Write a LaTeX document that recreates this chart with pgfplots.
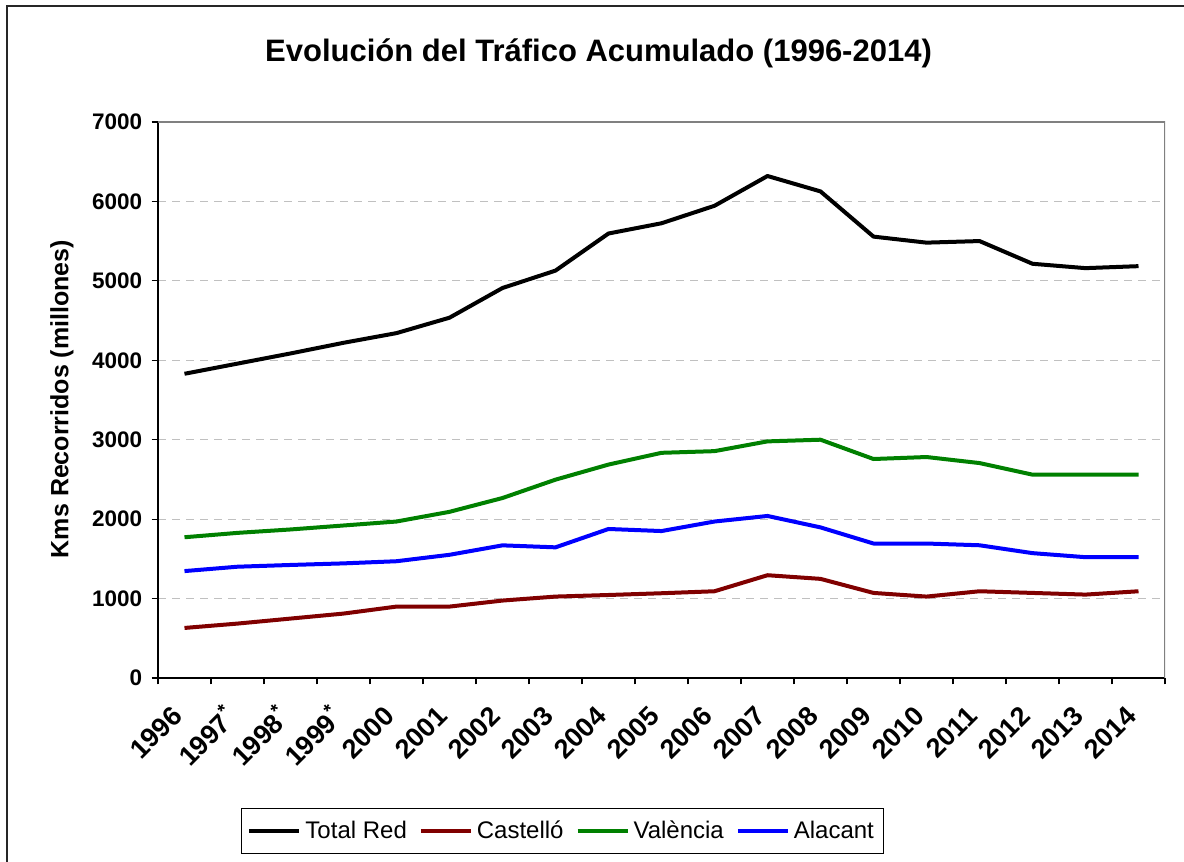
\documentclass[border=0pt]{standalone}
\usepackage{fontspec}
\setmainfont{Liberation Sans}
\usepackage{pgfplots}
\pgfplotsset{compat=1.18}
\definecolor{cred}{HTML}{800000}
\definecolor{cgreen}{HTML}{008000}
\definecolor{cblue}{HTML}{0000FF}
\definecolor{gridc}{HTML}{C0C0C0}
\definecolor{frame}{HTML}{808080}
\begin{document}
\begin{tikzpicture}
\path[use as bounding box] (0,0) rectangle (592pt,431pt);
\draw[line width=1pt, black!85] (3.25pt,0) -- (3.25pt,427.75pt) -- (592pt,427.75pt);
\node[font=\fontsize{15.5}{18}\selectfont\bfseries] at (299.25pt,404.5pt) {Evolución del Tráfico Acumulado (1996-2014)};
\node[font=\fontsize{12.5}{15}\selectfont\bfseries, rotate=90] at (31pt,231.5pt) {Kms Recorridos (millones)};
\begin{axis}[
  at={(79pt,92pt)}, anchor=south west,
  width=503.5pt, height=278pt, scale only axis,
  xmin=-0.5, xmax=18.5, ymin=0, ymax=7000,
  axis lines=left,
  axis line style={-, line width=0.8pt, black},
  tick align=outside,
  major tick length=3.25pt,
  tick style={black, line width=0.6pt},
  ytick={0,1000,...,7000},
  ymajorgrids,
  grid style={gridc, line width=0.5pt, dash pattern=on 4pt off 3pt},
  xtick={-0.5,0.5,...,18.5},
  xticklabels={},
  extra x ticks={0,...,18},
  extra x tick labels={1996,1997\textsuperscript{*},1998\textsuperscript{*},1999\textsuperscript{*},2000,2001,2002,2003,2004,2005,2006,2007,2008,2009,2010,2011,2012,2013,2014},
  extra x tick style={major tick length=0pt, grid=none,
    xticklabel style={inner sep=0pt, xshift=-3.5pt, yshift=-16.5pt, rotate=45, anchor=east,
      font=\fontsize{13.5}{15}\selectfont\bfseries}},
  yticklabel style={inner sep=0pt, xshift=-4.5pt},
  ticklabel style={font=\fontsize{11.25}{13}\selectfont\bfseries},
  /pgf/number format/assume math mode=true,
  /pgf/number format/1000 sep={},
  legend columns=4,
  legend style={at={(axis description cs:0.0824,-0.2338)}, anchor=north west,
    draw=black, line width=0.5pt, font=\fontsize{12}{14}\selectfont,
    inner xsep=3pt, inner ysep=4pt,
    /tikz/every even column/.append style={column sep=4pt}},
  legend image code/.code={\draw[#1, line width=2pt] (0pt,0pt) -- (25pt,0pt);},
  every axis plot/.append style={line width=2pt, line join=round, mark=none},
]
\draw[frame, line width=0.8pt] (rel axis cs:0,1) -- (rel axis cs:1,1) -- (rel axis cs:1,0);
\addplot[black] coordinates {(0,3830)(1,3958)(2,4086)(3,4220)(4,4342)(5,4536)(6,4910)(7,5129)(8,5596)(9,5725)(10,5945)(11,6320)(12,6126)(13,5557)(14,5481)(15,5501)(16,5215)(17,5160)(18,5185)};
\addlegendentry{Total Red}
\addplot[cred] coordinates {(0,630)(1,685)(2,748)(3,811)(4,899)(5,899)(6,975)(7,1025)(8,1045)(9,1067)(10,1092)(11,1294)(12,1248)(13,1071)(14,1025)(15,1092)(16,1071)(17,1050)(18,1092)};
\addlegendentry{Castelló}
\addplot[cgreen] coordinates {(0,1772)(1,1827)(2,1870)(3,1920)(4,1970)(5,2092)(6,2266)(7,2497)(8,2687)(9,2835)(10,2856)(11,2979)(12,3000)(13,2757)(14,2782)(15,2706)(16,2560)(17,2560)(18,2560)};
\addlegendentry{València}
\addplot[cblue] coordinates {(0,1346)(1,1401)(2,1423)(3,1443)(4,1470)(5,1551)(6,1670)(7,1645)(8,1876)(9,1850)(10,1970)(11,2040)(12,1896)(13,1693)(14,1693)(15,1671)(16,1572)(17,1521)(18,1521)};
\addlegendentry{Alacant}
\end{axis}
\end{tikzpicture}
\end{document}
